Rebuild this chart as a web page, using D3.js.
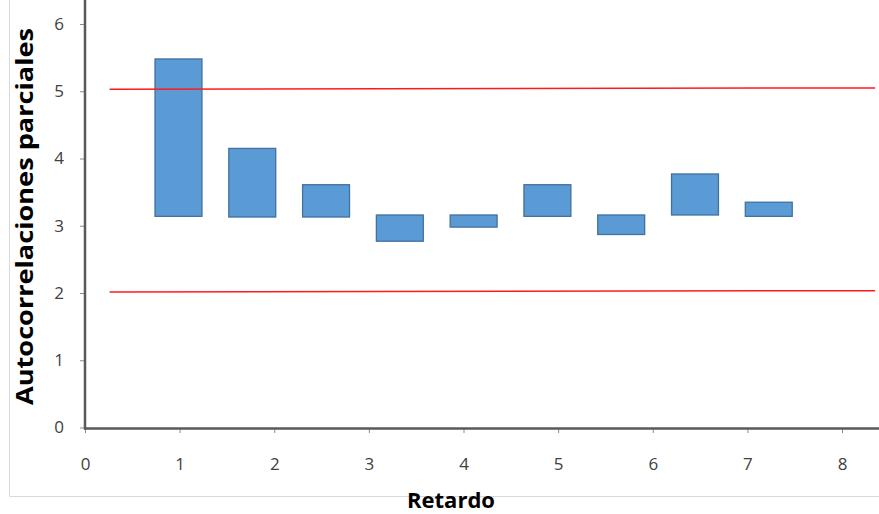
<!DOCTYPE html>
<html>
<head>
<meta charset="utf-8">
<script src="https://cdn.jsdelivr.net/npm/d3@7"></script>
<style>
  html, body { margin: 0; padding: 0; background: #fff; }
  svg { display: block; }
</style>
</head>
<body>
<svg id="chart" width="879" height="514"></svg>
<script>
// ---- Data ----
const lags = [1, 2, 3, 4, 5, 6, 7, 8, 9];
const barLow  = [3.14, 3.13, 3.13, 2.77, 2.98, 3.14, 2.87, 3.16, 3.14];
const barHigh = [5.48, 4.15, 3.61, 3.16, 3.16, 3.61, 3.16, 3.77, 3.35];
const upperBandX = [0.26, 8.35];
const upperBandY = [5.03, 5.05];
const lowerBandX = [0.26, 8.35];
const lowerBandY = [2.015, 2.035];
const xTicks = [0, 1, 2, 3, 4, 5, 6, 7, 8];
const yTicks = [0, 1, 2, 3, 4, 5, 6];
const xTitle = "Retardo";
const yTitle = "Autocorrelaciones parciales";

// ---- Layout ----
const W = 879, H = 514;
const svg = d3.select("#chart");

const x = d3.scaleLinear().domain([0, 8]).range([85, 842]);
const y = d3.scaleLinear().domain([0, 6]).range([427.5, 24]);
const band = d3.scaleBand().domain(lags)
  .range([x(0.598), x(7.616)])
  .paddingInner(0.364).paddingOuter(0.182);

// chart-area border (light gray)
svg.append("line").attr("x1", 9.5).attr("x2", 9.5).attr("y1", 0).attr("y2", 496)
  .attr("stroke", "#d9d9d9").attr("stroke-width", 1);
svg.append("line").attr("x1", 9.5).attr("x2", W).attr("y1", 496.5).attr("y2", 496.5)
  .attr("stroke", "#d9d9d9").attr("stroke-width", 1);

// bars
svg.append("g").selectAll("rect").data(lags).join("rect")
  .attr("x", (d) => band(d))
  .attr("width", band.bandwidth())
  .attr("y", (d, i) => y(barHigh[i]))
  .attr("height", (d, i) => y(barLow[i]) - y(barHigh[i]))
  .attr("fill", "#5b9bd5")
  .attr("stroke", "#41719c")
  .attr("stroke-width", 1.3);

// red bands
const line = d3.line().x(d => x(d[0])).y(d => y(d[1]));
svg.append("path")
  .attr("d", line(upperBandX.map((v, i) => [v, upperBandY[i]])))
  .attr("stroke", "#ff1a1a").attr("stroke-width", 1.5).attr("fill", "none");
svg.append("path")
  .attr("d", line(lowerBandX.map((v, i) => [v, lowerBandY[i]])))
  .attr("stroke", "#ff1a1a").attr("stroke-width", 1.5).attr("fill", "none");

// y axis
const yAxis = d3.axisLeft(y).tickValues(yTicks).tickSize(5).tickPadding(16).tickFormat(d3.format("d"));
const gy = svg.append("g").attr("transform", "translate(85,0)").call(yAxis);
gy.select(".domain").remove();
gy.selectAll(".tick line").attr("stroke", "#8c8c8c").attr("stroke-width", 1);
gy.selectAll(".tick text").attr("fill", "#404040")
  .style("font-family", "'Open Sans', sans-serif").style("font-size", "17px");

// x axis
const xAxis = d3.axisBottom(x).tickValues(xTicks).tickSize(5).tickPadding(25).tickFormat(d3.format("d"));
const gx = svg.append("g").attr("transform", "translate(0,428)").call(xAxis);
gx.select(".domain").remove();
gx.selectAll(".tick line").attr("stroke", "#8c8c8c").attr("stroke-width", 1);
gx.selectAll(".tick text").attr("fill", "#404040")
  .style("font-family", "'Open Sans', sans-serif").style("font-size", "17px");

// axis lines
svg.append("line").attr("x1", 85).attr("x2", 85).attr("y1", 0).attr("y2", 429.5)
  .attr("stroke", "#595959").attr("stroke-width", 2.5);
svg.append("line").attr("x1", 84).attr("x2", W).attr("y1", 428.5).attr("y2", 428.5)
  .attr("stroke", "#595959").attr("stroke-width", 2.5);

// titles
svg.append("text").text(xTitle)
  .attr("x", 451).attr("y", 508)
  .attr("text-anchor", "middle")
  .attr("textLength", 88).attr("lengthAdjust", "spacingAndGlyphs")
  .style("font-family", "'Open Sans', sans-serif").style("font-weight", "bold")
  .style("font-size", "21px").attr("fill", "#000");

svg.append("text").text(yTitle)
  .attr("transform", "translate(33,216.5) rotate(-90)")
  .attr("text-anchor", "middle")
  .attr("textLength", 377).attr("lengthAdjust", "spacingAndGlyphs")
  .style("font-family", "'Open Sans', sans-serif").style("font-weight", "bold")
  .style("font-size", "24px").attr("fill", "#000");
</script>
</body>
</html>
